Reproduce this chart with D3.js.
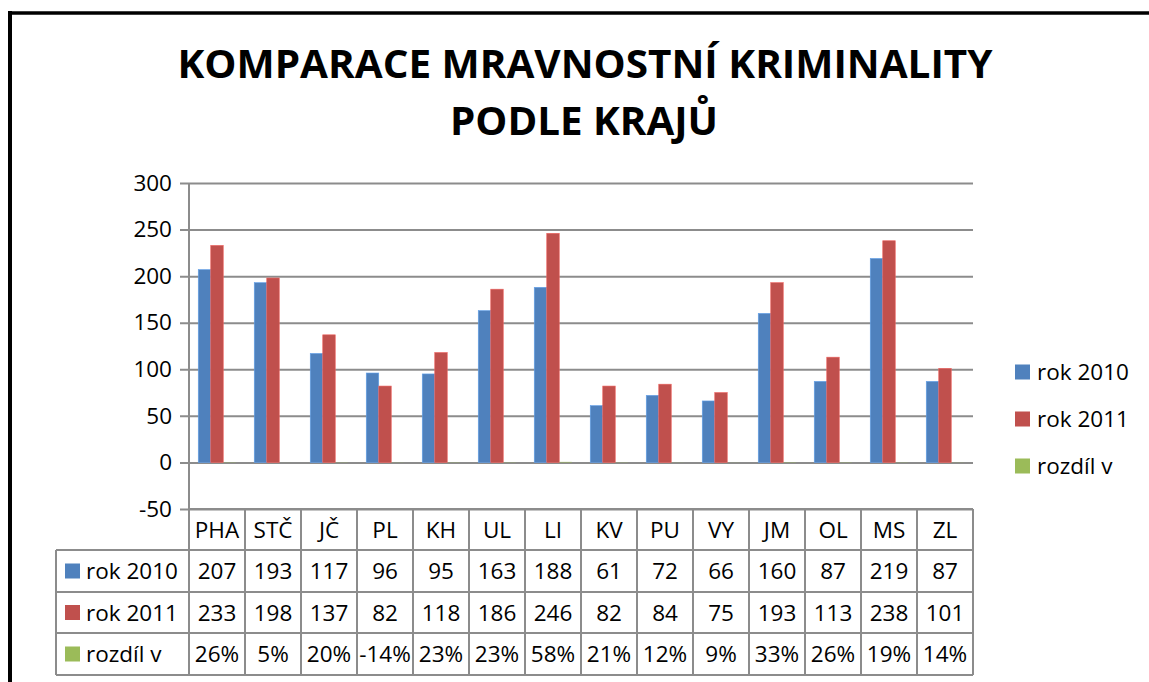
<!DOCTYPE html>
<html>
<head>
<meta charset="utf-8">
<script src="https://cdn.jsdelivr.net/npm/d3@7"></script>
<style>
  body { margin: 0; background: #fff; }
  text { font-family: "Open Sans", "Noto Sans", sans-serif; fill: #000; }
</style>
</head>
<body>
<svg id="chart" width="1149" height="682"></svg>
<script>
// data
const regions = ["PHA", "STČ", "JČ", "PL", "KH", "UL", "LI", "KV", "PU", "VY", "JM", "OL", "MS", "ZL"];
const rok2010 = [207, 193, 117, 96, 95, 163, 188, 61, 72, 66, 160, 87, 219, 87];
const rok2011 = [233, 198, 137, 82, 118, 186, 246, 82, 84, 75, 193, 113, 238, 101];
const rozdil = [26, 5, 20, -14, 23, 23, 58, 21, 12, 9, 33, 26, 19, 14]; // percent
const seriesNames = ["rok 2010", "rok 2011", "rozdíl v"];
const colors = ["#4f81bd", "#c0504d", "#9bbb59"];
const yTicks = [-50, 0, 50, 100, 150, 200, 250, 300];

const svg = d3.select("#chart");
const width = 1149, height = 682;
const plot = { left: 189, right: 973, top: 183, bottom: 509 };
const tableRows = [509, 550, 592, 633, 675];
const tableLeft = 56;
const fontSize = "22.5px";

// frame
svg.append("line").attr("x1", 8).attr("x2", width).attr("y1", 13).attr("y2", 13)
  .attr("stroke", "#000").attr("stroke-width", 3.5);
svg.append("line").attr("x1", 10).attr("x2", 10).attr("y1", 11).attr("y2", height)
  .attr("stroke", "#000").attr("stroke-width", 4);

// title
const title = svg.append("g").style("font-weight", "bold").style("font-size", "40px");
title.append("text").attr("x", 585).attr("y", 78).attr("text-anchor", "middle")
  .attr("textLength", 815).attr("lengthAdjust", "spacingAndGlyphs")
  .text("KOMPARACE MRAVNOSTNÍ KRIMINALITY");
title.append("text").attr("x", 584).attr("y", 135).attr("text-anchor", "middle")
  .attr("textLength", 268).attr("lengthAdjust", "spacingAndGlyphs")
  .text("PODLE KRAJŮ");

const x = d3.scaleBand().domain(regions).range([plot.left, plot.right]);
const xs = d3.scaleBand().domain(seriesNames).range([9.25, 46.75]);
const y = d3.scaleLinear().domain([-50, 300]).range([plot.bottom, plot.top]);

// gridlines + y axis
const yAxis = d3.axisLeft(y).tickValues(yTicks).tickFormat(d => String(d))
  .tickSize(-(plot.right - plot.left)).tickPadding(17);
const gy = svg.append("g").attr("transform", `translate(${plot.left},0)`).call(yAxis);
gy.select(".domain").remove();
gy.selectAll(".tick line").attr("x1", -9).attr("stroke", "#8c8c8c").attr("stroke-width", 2);
gy.selectAll(".tick text").style("font-size", fontSize).style("font-family", "'Open Sans', sans-serif");

svg.append("line").attr("x1", plot.left).attr("x2", plot.left).attr("y1", plot.top).attr("y2", plot.bottom)
  .attr("stroke", "#8c8c8c").attr("stroke-width", 2);

// bars
const series = [rok2010, rok2011, rozdil.map(v => v / 100)];
series.forEach((vals, si) => {
  svg.append("g").selectAll("rect")
    .data(vals)
    .join("rect")
    .attr("x", (d, i) => x(regions[i]) + xs(seriesNames[si]))
    .attr("width", xs.bandwidth())
    .attr("y", d => y(Math.max(0, d)))
    .attr("height", d => Math.abs(y(d) - y(0)))
    .attr("fill", colors[si])
    .attr("stroke", si < 2 ? d3.color(colors[si]).brighter(0.6) : "none")
    .attr("stroke-width", 0.6);
});

// data table
const tg = svg.append("g");
const lineColor = "#8c8c8c";
tg.append("line").attr("x1", plot.left).attr("x2", plot.right).attr("y1", tableRows[0]).attr("y2", tableRows[0])
  .attr("stroke", lineColor).attr("stroke-width", 2);
tableRows.slice(1).forEach(ry => {
  tg.append("line").attr("x1", tableLeft).attr("x2", plot.right).attr("y1", ry).attr("y2", ry)
    .attr("stroke", lineColor).attr("stroke-width", 2);
});
regions.forEach(r => {
  tg.append("line").attr("x1", x(r)).attr("x2", x(r)).attr("y1", tableRows[0]).attr("y2", tableRows[4])
    .attr("stroke", lineColor).attr("stroke-width", 2);
});
tg.append("line").attr("x1", plot.right).attr("x2", plot.right).attr("y1", tableRows[0]).attr("y2", tableRows[4])
  .attr("stroke", lineColor).attr("stroke-width", 2);
tg.append("line").attr("x1", tableLeft).attr("x2", tableLeft).attr("y1", tableRows[1]).attr("y2", tableRows[4])
  .attr("stroke", lineColor).attr("stroke-width", 2);

// header row
tg.selectAll("text.hdr").data(regions).join("text").attr("class", "hdr")
  .attr("x", d => x(d) + x.bandwidth() / 2)
  .attr("y", (tableRows[0] + tableRows[1]) / 2 + 8)
  .attr("text-anchor", "middle").style("font-size", fontSize)
  .text(d => d);

const tableText = [rok2010.map(String), rok2011.map(String), rozdil.map(v => v + "%")];
tableText.forEach((vals, si) => {
  const cy = (tableRows[si + 1] + tableRows[si + 2]) / 2;
  tg.append("rect").attr("x", 65).attr("y", cy - 7.5).attr("width", 15).attr("height", 15).attr("fill", colors[si]);
  tg.append("text").attr("x", 86).attr("y", cy + 8).style("font-size", fontSize).text(seriesNames[si]);
  tg.append("g").selectAll("text").data(vals).join("text")
    .attr("x", (d, i) => x(regions[i]) + x.bandwidth() / 2)
    .attr("y", cy + 8)
    .attr("text-anchor", "middle").style("font-size", fontSize)
    .text(d => d);
});

// legend
const legend = svg.append("g").attr("transform", "translate(1015,372)");
seriesNames.forEach((name, i) => {
  const g = legend.append("g").attr("transform", `translate(0,${i * 47})`);
  g.append("rect").attr("x", 0).attr("y", -7.5).attr("width", 15).attr("height", 15).attr("fill", colors[i]);
  g.append("text").attr("x", 22).attr("y", 8).style("font-size", fontSize).text(name);
});
</script>
</body>
</html>
